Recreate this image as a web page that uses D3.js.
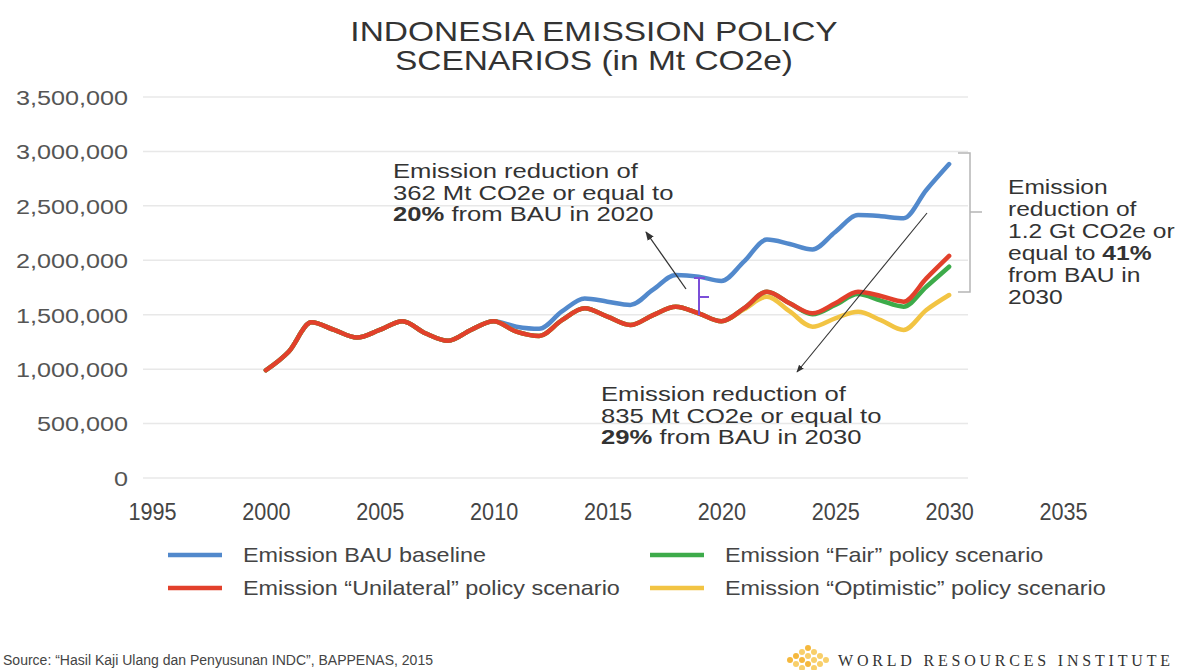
<!DOCTYPE html>
<html><head><meta charset="utf-8">
<script src="https://cdn.jsdelivr.net/npm/d3@7/dist/d3.min.js"></script>
<style>
body{margin:0;background:#fff;}
svg{display:block;font-family:"Liberation Sans",Arial,sans-serif;}
</style>
</head><body>
<svg id="chart" width="1188" height="670"></svg>
<script>
// ---------------- data ----------------
const years = [2000,2001,2002,2003,2004,2005,2006,2007,2008,2009,2010,2011,2012,2013,2014,2015,2016,2017,2018,2019,2020,2021,2022,2023,2024,2025,2026,2027,2028,2029,2030];
const bau = [990000,1160000,1430000,1360000,1290000,1360000,1440000,1330000,1260000,1360000,1440000,
  1390000,1370000,1530000,1650000,1620000,1590000,1730000,1865000,1850000,1810000,
  1990000,2190000,2150000,2100000,2260000,2415000,2405000,2386000,2646000,2884000];
const unilateral = [990000,1160000,1430000,1360000,1290000,1360000,1440000,1330000,1260000,1360000,1440000,
  1344000,1304000,1450000,1559000,1482000,1405000,1497000,1574000,1513000,1440000,
  1560000,1711000,1605000,1513000,1605000,1711000,1672000,1620000,1834000,2040000];
const fair = [990000,1160000,1430000,1360000,1290000,1360000,1440000,1330000,1260000,1360000,1440000,
  1344000,1304000,1450000,1559000,1482000,1405000,1497000,1574000,1513000,1440000,
  1560000,1711000,1605000,1505000,1590000,1690000,1630000,1574000,1757000,1941000];
const optimistic = [990000,1160000,1430000,1360000,1290000,1360000,1440000,1330000,1260000,1360000,1440000,
  1344000,1304000,1450000,1559000,1482000,1405000,1497000,1574000,1513000,1440000,
  1550000,1665000,1530000,1390000,1467000,1528000,1450000,1360000,1543000,1681000];
const seriesNames = ["Emission BAU baseline","Emission “Unilateral” policy scenario","Emission “Fair” policy scenario","Emission “Optimistic” policy scenario"];
const seriesColors = ["#5289cc","#e2402b","#3dab4a","#f2c443"];
const xTicks = [1995,2000,2005,2010,2015,2020,2025,2030,2035];
const yTicks = [0,500000,1000000,1500000,2000000,2500000,3000000,3500000];
const titleLines = ["INDONESIA EMISSION POLICY","SCENARIOS (in Mt CO2e)"];

// ---------------- setup ----------------
const svg = d3.select("#chart");
const x = d3.scaleLinear().domain([1995,2035]).range([152,1063]);
const y = d3.scaleLinear().domain([0,3500000]).range([478,97]);
const SX = 1.2; // horizontal stretch of the original picture

function stext(g, px, py, parts, o){
  const t = g.append("text")
    .attr("transform", `translate(${px},${py}) scale(${o.sx||SX},1)`)
    .attr("font-size", o.size)
    .attr("fill", o.fill || "#333")
    .attr("text-anchor", o.anchor || "start");
  if (o.family) t.attr("font-family", o.family);
  (Array.isArray(parts)?parts:[{t:parts}]).forEach(p=>{
    t.append("tspan").text(p.t).attr("font-weight", p.b ? "bold" : null);
  });
  return t;
}

// title
titleLines.forEach((l,i)=>stext(svg, 594, 41 + i*29, l, {size:27, sx:1.24, anchor:"middle", fill:"#333"}));

// gridlines
svg.append("g").selectAll("line").data(yTicks).join("line")
  .attr("x1",143).attr("x2",968)
  .attr("y1",d=>y(d)).attr("y2",d=>y(d))
  .attr("stroke","#e8e8e8").attr("stroke-width",1.5);

// y axis labels (via d3 axis)
const yAxis = svg.append("g").attr("transform","translate(128,0)")
  .call(d3.axisLeft(y).tickValues(yTicks).tickFormat(d3.format(",")).tickSize(0).tickPadding(0));
yAxis.select(".domain").remove();
yAxis.selectAll("text").attr("y",0).attr("dy","0.35em")
  .attr("font-size",21).attr("fill","#555")
  .attr("transform",`scale(${SX},1)`);

// x axis labels
const xAxis = svg.append("g").attr("transform","translate(0,512)")
  .call(d3.axisBottom(x).tickValues(xTicks).tickFormat(d3.format("d")).tickSize(0).tickPadding(0));
xAxis.select(".domain").remove();
xAxis.selectAll("text").attr("y",0).attr("dy","0.35em")
  .attr("font-size",24).attr("fill","#444").attr("transform","scale(0.9,1)")
  .attr("font-family","Liberation Sans Narrow, Liberation Sans, Arial, sans-serif");

// lines
const allSeries = [bau, optimistic, fair, unilateral];
const allColors = [seriesColors[0], seriesColors[3], seriesColors[2], seriesColors[1]];
const line = d3.line().x((d,i)=>x(years[i])).y(d=>y(d)).curve(d3.curveMonotoneX);
svg.append("g").selectAll("path").data(allSeries).join("path")
  .attr("d", line).attr("fill","none")
  .attr("stroke",(d,i)=>allColors[i]).attr("stroke-width",4.5)
  .attr("stroke-linejoin","round").attr("stroke-linecap","round");

// ---------------- annotations ----------------
svg.append("defs").append("marker").attr("id","arr")
  .attr("viewBox","0 0 10 10").attr("refX",9).attr("refY",5)
  .attr("markerWidth",7).attr("markerHeight",7).attr("orient","auto-start-reverse")
  .append("path").attr("d","M0,1 L10,5 L0,9 z").attr("fill","#333");

const ann1 = [
  [{t:"Emission reduction of"}],
  [{t:"362 Mt CO2e or equal to"}],
  [{t:"20%",b:true},{t:" from BAU in 2020"}]
];
ann1.forEach((p,i)=>stext(svg, 393, 178 + i*21.7, p, {size:20.5, sx:1.25, fill:"#333"}));
const ann2 = [
  [{t:"Emission reduction of"}],
  [{t:"835 Mt CO2e or equal to"}],
  [{t:"29%",b:true},{t:" from BAU in 2030"}]
];
ann2.forEach((p,i)=>stext(svg, 601, 401 + i*21.7, p, {size:20.5, sx:1.25, fill:"#333"}));
const ann3 = [
  [{t:"Emission"}],[{t:"reduction of"}],[{t:"1.2 Gt CO2e or"}],
  [{t:"equal to "},{t:"41%",b:true}],[{t:"from BAU in"}],[{t:"2030"}]
];
ann3.forEach((p,i)=>stext(svg, 1008, 194 + i*22, p, {size:20.5, sx:1.2, fill:"#333"}));

// arrows
svg.append("line").attr("x1",686).attr("y1",289).attr("x2",646).attr("y2",232)
  .attr("stroke","#333").attr("stroke-width",1.3).attr("marker-end","url(#arr)");
svg.append("line").attr("x1",927).attr("y1",213).attr("x2",797).attr("y2",372)
  .attr("stroke","#333").attr("stroke-width",1.1).attr("marker-end","url(#arr)");

// purple bracket (2020 gap)
const pb = svg.append("g").attr("stroke","#7b4fd8").attr("stroke-width",2).attr("fill","none");
pb.append("line").attr("x1",699).attr("x2",699).attr("y1",278).attr("y2",315);
pb.append("line").attr("x1",694).attr("x2",705).attr("y1",278).attr("y2",278);
pb.append("line").attr("x1",699).attr("x2",709).attr("y1",297).attr("y2",297);

// right gray bracket (2030 gap)
const gb = svg.append("g").attr("stroke","#b5b5b5").attr("stroke-width",1.5).attr("fill","none");
gb.append("path").attr("d","M958,153 H970 V292 H958");
gb.append("line").attr("x1",970).attr("x2",982).attr("y1",212).attr("y2",212);

// legend
const legendItems = [
  {name:seriesNames[0], color:seriesColors[0], lx:168, ly:555},
  {name:seriesNames[1], color:seriesColors[1], lx:168, ly:588},
  {name:seriesNames[2], color:seriesColors[2], lx:650, ly:555},
  {name:seriesNames[3], color:seriesColors[3], lx:650, ly:588}
];
const lg = svg.append("g");
legendItems.forEach(it=>{
  lg.append("line").attr("x1",it.lx).attr("x2",it.lx+54).attr("y1",it.ly).attr("y2",it.ly)
    .attr("stroke",it.color).attr("stroke-width",4.5);
  stext(lg, it.lx+75, it.ly+7, it.name, {size:20, sx:1.17, fill:"#444",
    family:"Liberation Sans Narrow, Liberation Sans, Arial, sans-serif"});
});

// source
svg.append("text").attr("x",3).attr("y",665).attr("font-size",14).attr("fill","#444")
  .attr("textLength",430).attr("lengthAdjust","spacingAndGlyphs")
  .attr("font-family","Liberation Sans Narrow, Liberation Sans, Arial, sans-serif")
  .text("Source: “Hasil Kaji Ulang dan Penyusunan INDC”, BAPPENAS, 2015");

// WRI logo
const logo = svg.append("g").attr("transform","translate(808,658)");
const dots = [[0,-10],[-6,-6],[6,-6],[-12,-2],[0,-2],[12,-2],[-6,2],[6,2],[-12,6],[0,6],[12,6],[-6,10],[-18,2],[18,2],[6,10]];
logo.selectAll("circle").data(dots).join("circle")
  .attr("cx",d=>d[0]).attr("cy",d=>d[1]).attr("r",3)
  .attr("fill",(d,i)=>i%3===0?"#f5b83d":"#f8cf6a");
svg.append("text").attr("x",838).attr("y",666).attr("font-size",16).attr("fill","#333")
  .attr("font-family","Liberation Serif, DejaVu Serif, serif")
  .attr("textLength",332).attr("lengthAdjust","spacing")
  .text("WORLD RESOURCES INSTITUTE");
</script>
</body></html>
